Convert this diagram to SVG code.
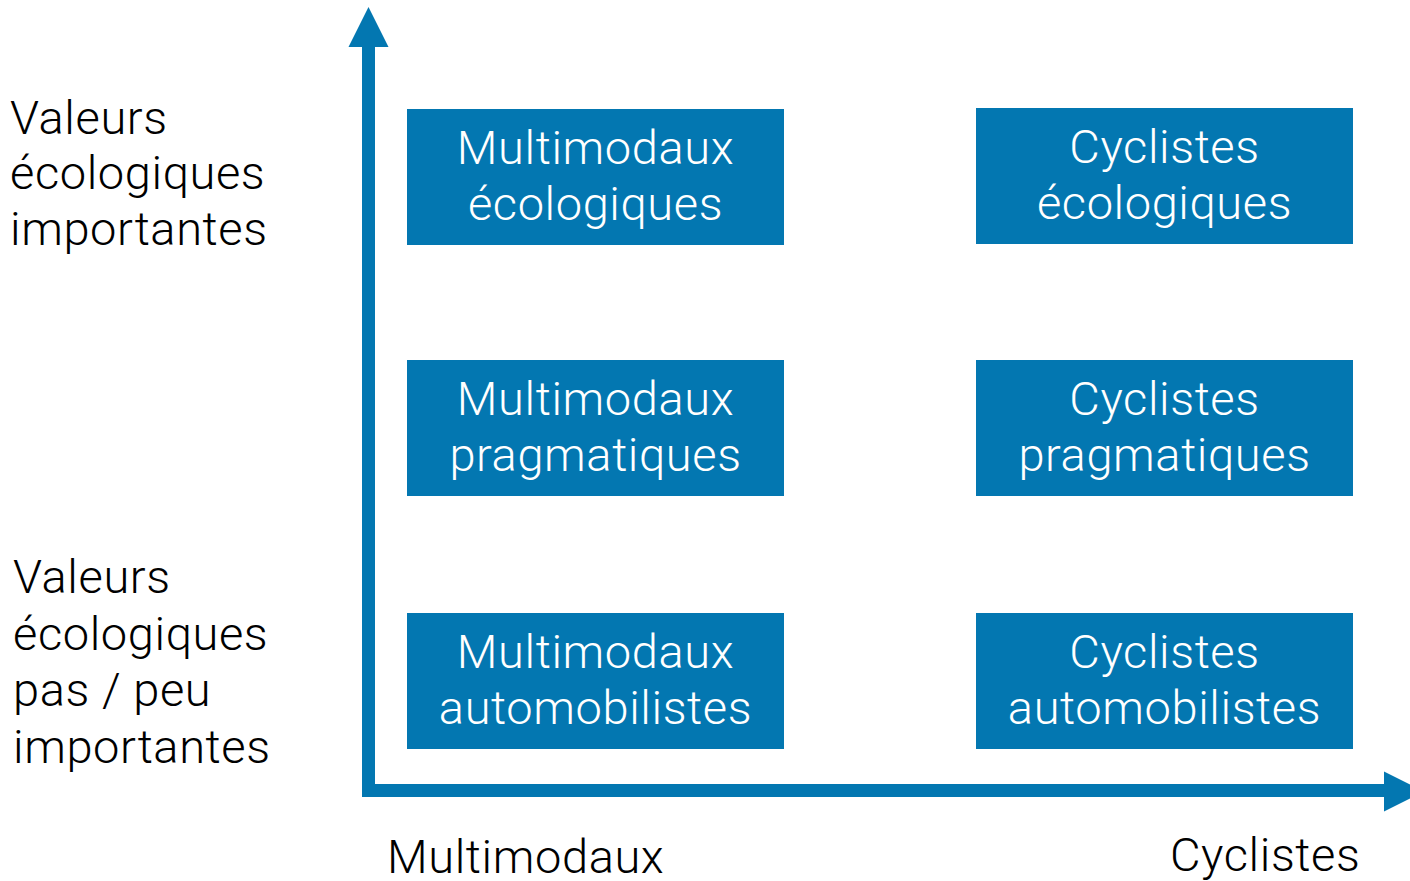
<svg xmlns="http://www.w3.org/2000/svg" width="1410" height="881" viewBox="0 0 1410 881">
<style>
.box{fill:#0377b1}
.bt{font-family:Roboto,"Liberation Sans",sans-serif;font-weight:300;font-size:47px;letter-spacing:0.6px;fill:#ffffff;text-anchor:middle}
.lt{font-family:Roboto,"Liberation Sans",sans-serif;font-weight:300;font-size:47px;letter-spacing:0.6px;fill:#000000}
.ax{stroke:#0377b1;stroke-width:13;fill:none}
.ah{fill:#0377b1}
</style>
<rect width="1410" height="881" fill="#ffffff"/>
<g id="axes">
<path class="ax" d="M368.5 44 V790.5 H1388"/>
<polygon class="ah" points="368.5,7 388.5,47 348.5,47"/>
<polygon class="ah" points="1424,791.5 1384,771.5 1384,811.5"/>
</g>
<g id="label-high">
<text class="lt" x="10" y="134">Valeurs</text>
<text class="lt" x="10" y="189">écologiques</text>
<text class="lt" x="10" y="245">importantes</text>
</g>
<g id="label-low">
<text class="lt" x="13" y="593">Valeurs</text>
<text class="lt" x="13" y="650">écologiques</text>
<text class="lt" x="13" y="706">pas / peu</text>
<text class="lt" x="13" y="763">importantes</text>
</g>
<g id="label-multimodaux"><text class="lt" x="387" y="873">Multimodaux</text></g>
<g id="label-cyclistes"><text class="lt" x="1170" y="871">Cyclistes</text></g>
<g id="multimodaux-ecologiques">
<rect class="box" x="407" y="109" width="377" height="136"/>
<text class="bt" x="595.5" y="164">Multimodaux</text>
<text class="bt" x="595.5" y="220">écologiques</text>
</g>
<g id="cyclistes-ecologiques">
<rect class="box" x="976" y="108" width="377" height="136"/>
<text class="bt" x="1164.5" y="163">Cyclistes</text>
<text class="bt" x="1164.5" y="219">écologiques</text>
</g>
<g id="multimodaux-pragmatiques">
<rect class="box" x="407" y="360" width="377" height="136"/>
<text class="bt" x="595.5" y="415">Multimodaux</text>
<text class="bt" x="595.5" y="471">pragmatiques</text>
</g>
<g id="cyclistes-pragmatiques">
<rect class="box" x="976" y="360" width="377" height="136"/>
<text class="bt" x="1164.5" y="415">Cyclistes</text>
<text class="bt" x="1164.5" y="471">pragmatiques</text>
</g>
<g id="multimodaux-automobilistes">
<rect class="box" x="407" y="613" width="377" height="136"/>
<text class="bt" x="595.5" y="668">Multimodaux</text>
<text class="bt" x="595.5" y="724">automobilistes</text>
</g>
<g id="cyclistes-automobilistes">
<rect class="box" x="976" y="613" width="377" height="136"/>
<text class="bt" x="1164.5" y="668">Cyclistes</text>
<text class="bt" x="1164.5" y="724">automobilistes</text>
</g>
</svg>
